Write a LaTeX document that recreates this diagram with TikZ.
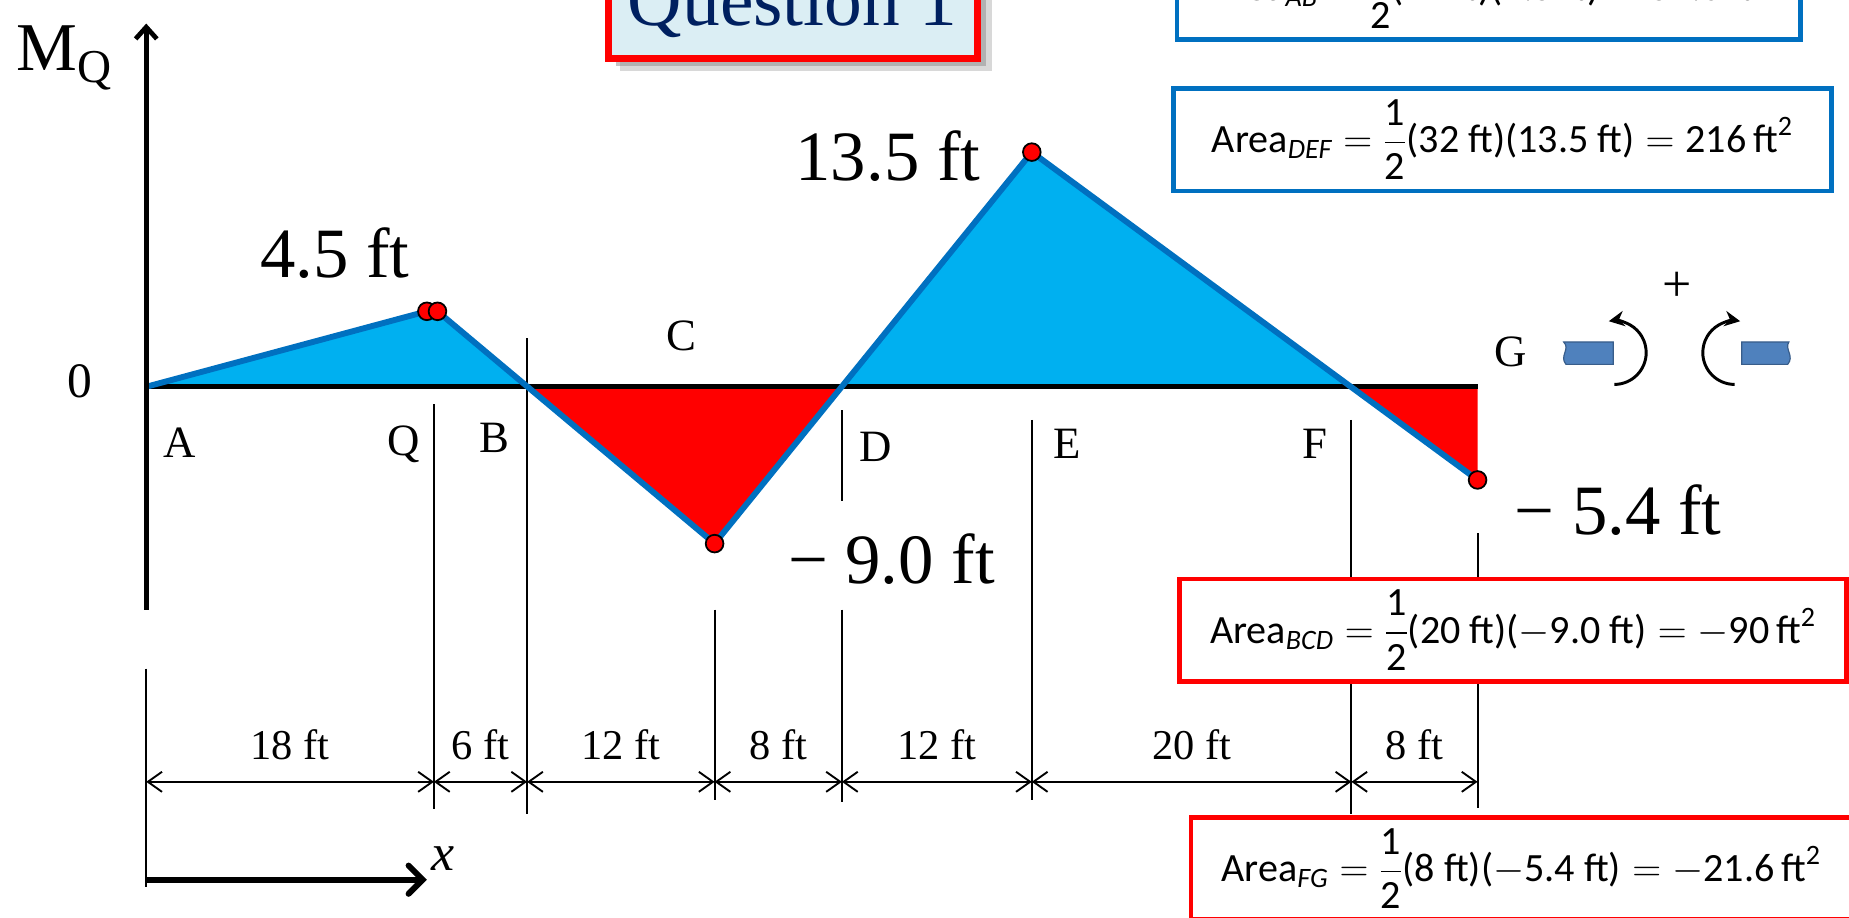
\documentclass[tikz,border=0pt]{standalone}
\usepackage{fix-cm}
\usepackage{amsmath}
\usepackage{fontspec}
\setmainfont{Liberation Serif}
\newfontfamily\calibri{Carlito}
\usetikzlibrary{arrows.meta,positioning}

\definecolor{fillblue}{HTML}{00B0F0}
\definecolor{lineblue}{HTML}{0070C0}
\definecolor{beamblue}{HTML}{4F81BD}
\definecolor{beamedge}{HTML}{385D8A}
\definecolor{navy}{HTML}{002060}
\definecolor{paleblue}{HTML}{DBEEF4}

\newcommand{\areatext}[3]{$\text{Area}_{\textit{#1}}=\dfrac{\text{1}}{\text{2}}\text{#2}=\text{#3\,ft}^{\text{2}}$}

\begin{document}
\begin{tikzpicture}[x=1pt,y=-1pt,
    lbl/.style={inner sep=0pt,anchor=base,font=\fontsize{38}{40}\selectfont},
    val/.style={inner sep=0pt,anchor=base,font=\fontsize{60}{62}\selectfont},
    dimtxt/.style={inner sep=0pt,font=\fontsize{36}{38}\selectfont},
    guide/.style={line width=1.6pt},
    dim/.style={line width=1.6pt,{Straight Barb[length=12pt,width=17pt]}-{Straight Barb[length=12pt,width=17pt]}},
    dot/.style={circle,draw=black,line width=1.5pt,fill=red,inner sep=0pt,minimum size=15pt},
    areabox/.style={draw=#1,line width=4pt,fill=white,minimum height=87pt,inner sep=0pt,
      font=\calibri\fontsize{34}{36}\selectfont},
    beam/.style={fill=beamblue,draw=beamedge,line width=1pt},
    turn/.style={line width=2.5pt,-{Stealth[length=13pt,width=13pt]}}]
  \useasboundingbox (0,0) rectangle (1568,778);

  % points of the diagram
  \coordinate (A) at (124,328);
  \coordinate (Q1) at (362,264);
  \coordinate (Q2) at (371,264);
  \coordinate (Q) at (368,328);
  \coordinate (B) at (447,328);
  \coordinate (C) at (606,461);
  \coordinate (D) at (714,328);
  \coordinate (E) at (875,129);
  \coordinate (F) at (1146,328);
  \coordinate (G) at (1253,407);
  \coordinate (G0) at (1253,328);

  % areas
  \fill[fillblue] (A) -- (Q1) -- (Q2) -- (B) -- cycle;
  \fill[fillblue] (D) -- (E) -- (F) -- cycle;
  \fill[red] (B) -- (C) -- (D) -- cycle;
  \fill[red] (F) -- (G) -- (G0) -- cycle;
  \draw[line width=4pt] (A) -- (G0);

  % guide lines and dimensions
  \foreach \p/\t/\b in {A/567/752,Q/343/686,B/287/690,C/517/678,D/348/425,D/517/680,E/356/678,F/356/690,G0/452/685}
    \draw[guide] (\p |- 0,\t) -- (\p |- 0,\b);
  \foreach \a/\b/\t in {A/Q/18,Q/B/6,B/C/12,C/D/8,D/E/12,E/F/20,F/G0/8}
    \draw[dim] (\a |- 0,663) -- (\b |- 0,663) node[dimtxt,midway,above=18pt] {\t\ ft};

  % moment line
  \draw[lineblue,line width=5pt,line join=round] (A) -- (Q1) -- (Q2) -- (C) -- (E) -- (G);
  \foreach \p in {Q1,Q2,C,E,G}
    \node[dot] at (\p) {};

  % axes
  \draw[line width=4pt,-{Straight Barb[length=10pt,width=18pt]}] (A |- 0,517) -- (A |- 0,20);
  \draw[line width=5pt,-{Straight Barb[length=12pt,width=24pt,line cap=round]}] (A |- 0,746) -- (362,746);
  \node[inner sep=0pt,anchor=base,font=\fontsize{44}{46}\selectfont\itshape] (xlab) at (376,738) {x};
  \node[inner sep=0pt,anchor=base west,font=\fontsize{58}{60}\selectfont] (mq) at (14,60) {M\raisebox{-10pt}{\fontsize{40}{42}\selectfont Q}};
  \node[inner sep=0pt,anchor=base,font=\fontsize{42}{44}\selectfont] (zero) at (68,337) {0};

  % letters
  \node[lbl] (lA) at (152,388) {A};
  \node[lbl] (lQ) at (342,386) {Q};
  \node[lbl] (lB) at (419,384) {B};
  \node[lbl] (lC) at (578,297) {C};
  \node[lbl] (lD) at (743,391) {D};
  \node[lbl] (lE) at (905,389) {E};
  \node[lbl] (lF) at (1115,389) {F};
  \node[lbl] (lG) at (1281,311) {G};

  % values
  \node[val] (vQ) at (284,235) {4.5 ft};
  \node[val] (vE) at (753,153) {13.5 ft};
  \node[val] (vC) at (756,495) {− 9.0 ft};
  \node[val] (vG) at (1372,453) {− 5.4 ft};

  % sign convention
  \draw[beam] (1368,290) -- (1326,290) .. controls (1332,296) and (1322,302) .. (1328,309) -- (1368,309) -- cycle;
  \draw[turn] (1369,326) arc[start angle=90,end angle=-100,radius=27];
  \draw[beam] (1477,290) -- (1517,290) .. controls (1513,296) and (1522,302) .. (1516,309) -- (1477,309) -- cycle;
  \draw[turn] (1471,326) arc[start angle=90,end angle=280,radius=27];
  \node[inner sep=0pt,font=\fontsize{44}{46}\selectfont] (plus) at (1422,243) {+};

  % title
  \fill[black!30,opacity=.5] (526,-40) rectangle (841,60);
  \fill[black!45,opacity=.5] (522,-42) rectangle (836,56);
  \node[draw=red,line width=6pt,fill=paleblue,minimum width=313pt,minimum height=95pt,inner sep=0pt] (qbox) at (672.5,2.5) {};
  \node[inner sep=0pt,anchor=base,text=navy,font=\fontsize{64}{66}\selectfont] (qtext) at (672,22) {Question 1};

  % area boxes
  \node[areabox=lineblue,minimum width=529pt] (areaAB) at (1262.5,-10) {\areatext{AB}{(24 ft)(4.5 ft)}{54.0}};
  \node[areabox=lineblue,minimum width=558pt] (areaDEF) at (1274,118.5) {\areatext{DEF}{(32 ft)(13.5 ft)}{216}};
  \node[areabox=red,minimum width=566pt] (areaBCD) at (1283,534.5) {\areatext{BCD}{(20 ft)($-$9.0 ft)}{$-$90}};
  \node[areabox=red,minimum width=560pt] (areaFG) at (1290,736.5) {\areatext{FG}{(8 ft)($-$5.4 ft)}{$-$21.6}};
\end{tikzpicture}
\end{document}
